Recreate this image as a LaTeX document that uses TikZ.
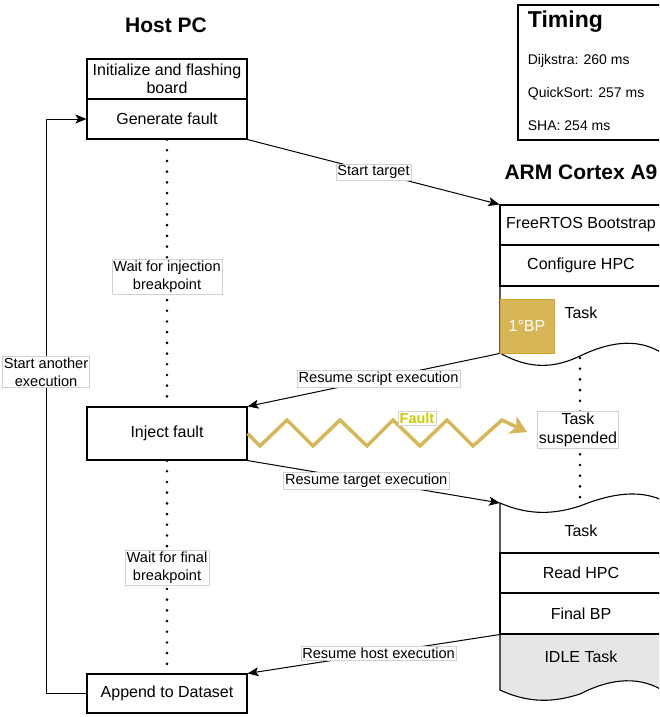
\documentclass[tikz,border=0pt]{standalone}
\usepackage{fontspec}
\setmainfont{Liberation Sans}
\usepackage{tikz}
\usetikzlibrary{arrows.meta}

\definecolor{bpgold}{HTML}{D6B656}
\definecolor{bpedge}{HTML}{D4A42C}
\definecolor{faultyellow}{HTML}{CCCC00}
\definecolor{idlegray}{HTML}{E6E6E6}

\begin{document}
\begin{tikzpicture}[x=1pt,y=-1pt,>={Stealth[length=11pt,width=9pt,inset=2.5pt]},
                    line width=1.1pt,
                    box/.style={draw=black,line width=1.1pt,minimum width=160pt,minimum height=40pt,
                                align=center,inner sep=2pt,font=\fontsize{16}{18.5}\selectfont},
                    armbox/.style={box,minimum width=162pt},
                    txt/.style={align=center,inner sep=0pt,font=\fontsize{16}{18.5}\selectfont},
                    lbl/.style={fill=white,draw=black!18,line width=0.5pt,inner sep=1.5pt,align=center,
                                font=\fontsize{14.6}{18}\selectfont},
                    title/.style={font=\fontsize{21}{24}\selectfont\bfseries}]
  \tikzstyle{arr}=[->,line width=1pt]
  \tikzstyle{dots}=[line width=2.9pt,line cap=round,dash pattern=on 0pt off 10.7pt]
  \tikzstyle{faultline}=[draw=bpgold,line width=3.5pt,line join=miter,
                         -{Stealth[length=16pt,width=19pt,inset=4pt]}]

  \useasboundingbox (0,0) rectangle (659,717);
  \clip (0,0) rectangle (659,717);

  % host side
  \node[title] (host) at (166,25) {Host PC};
  \node[box] (init) at (167,79)    {Initialize and flashing\\board};
  \node[box] (gen)  at (167,119)   {Generate fault};
  \node[box,minimum height=53pt] (inj) at (167,433.5) {Inject fault};
  \node[box,minimum height=39pt] (app) at (167,693.5) {Append to Dataset};

  % timing
  \draw (518,5) rectangle (680,140);
  \node[anchor=west,font=\fontsize{23}{26}\selectfont\bfseries] (tim) at (524,22) {Timing};
  \node[anchor=west,font=\fontsize{14}{16}\selectfont] (dij) at (524,61)  {Dijkstra: 260 ms};
  \node[anchor=west,font=\fontsize{14}{16}\selectfont] (qs)  at (524,94)  {QuickSort: 257 ms};
  \node[anchor=west,font=\fontsize{14}{16}\selectfont] (sha) at (524,126) {SHA: 254 ms};

  % target side, first part
  \node[title] (arm) at (581,172) {ARM Cortex A9};
  \draw (500,205) -- (500,353) .. controls (530,370) and (555,368) .. (580,356)
        .. controls (605,344) and (635,336) .. (662,353) -- (662,205);
  \node[armbox] (boot) at (581,225)   {FreeRTOS Bootstrap};
  \node[armbox,minimum height=41pt] (hpc) at (581,265.5) {Configure HPC};
  \node[txt] (task1) at (581,313) {Task};
  \node[fill=bpgold,draw=bpedge,line width=1pt,minimum size=54pt,inner sep=0pt,
        text=white,font=\fontsize{16}{18}\selectfont] (bp) at (527,326) {1°BP};
  \coordinate (w1) at (580,358);

  % target side, second part
  \fill[idlegray] (500,634) -- (500,690) .. controls (530,704) and (555,702) .. (580,694)
        .. controls (605,681) and (635,674) .. (662,690) -- (662,634) -- cycle;
  \draw (662,500) .. controls (635,488) and (605,496) .. (580,506)
        .. controls (555,514) and (530,516) .. (500,503) -- (500,690)
        .. controls (530,704) and (555,702) .. (580,694)
        .. controls (605,681) and (635,674) .. (662,690);
  \coordinate (t2) at (500,503);
  \coordinate (w2) at (580,500);
  \node[txt] (task2) at (581,531) {Task};
  \node[armbox] (rhpc) at (581,573) {Read HPC};
  \node[armbox,minimum height=41pt] (fbp) at (581,613.5) {Final BP};
  \node[txt] (idle) at (581,657) {IDLE Task};

  % waiting
  \draw[dots] (gen.south) -- (inj.north);
  \draw[dots] (inj.south) -- (app.north);
  \draw[dots] (w1) -- (w2);
  \node[lbl] (wib) at (167,277) {Wait for injection\\breakpoint};
  \node[lbl] (wfb) at (167,568) {Wait for final\\breakpoint};
  \node[lbl,font=\fontsize{16}{19}\selectfont] (susp) at (578,429.5) {Task\\suspended};

  % fault injection
  \coordinate (hit) at (527,432);
  \draw[faultline] (inj.east) -- (260,446) -- (287,420) -- (313,446) -- (340,420) -- (367,446)
        -- (393,420) -- (420,446) -- (447,420) -- (473,446) -- (502,420) -- (hit);
  \node[lbl,text=faultyellow,font=\fontsize{14.5}{17}\selectfont\bfseries] (flt) at (417,418) {Fault};

  \path (gen.south east) edge[arr] node[lbl,pos=0.5]  {Start target} (boot.north west)
        (bp.south west)  edge[arr] node[lbl,pos=0.48] {Resume script execution} (inj.north east)
        (inj.south east) edge[arr] node[lbl,pos=0.47] {Resume target execution} (t2)
        (fbp.south west) edge[arr] node[lbl,pos=0.48] {Resume host execution} (app.north east);

  \draw[arr] (app.west) -- (46,693.5) |- node[lbl,pos=0.28] {Start another\\execution} (gen.west);
\end{tikzpicture}
\end{document}
